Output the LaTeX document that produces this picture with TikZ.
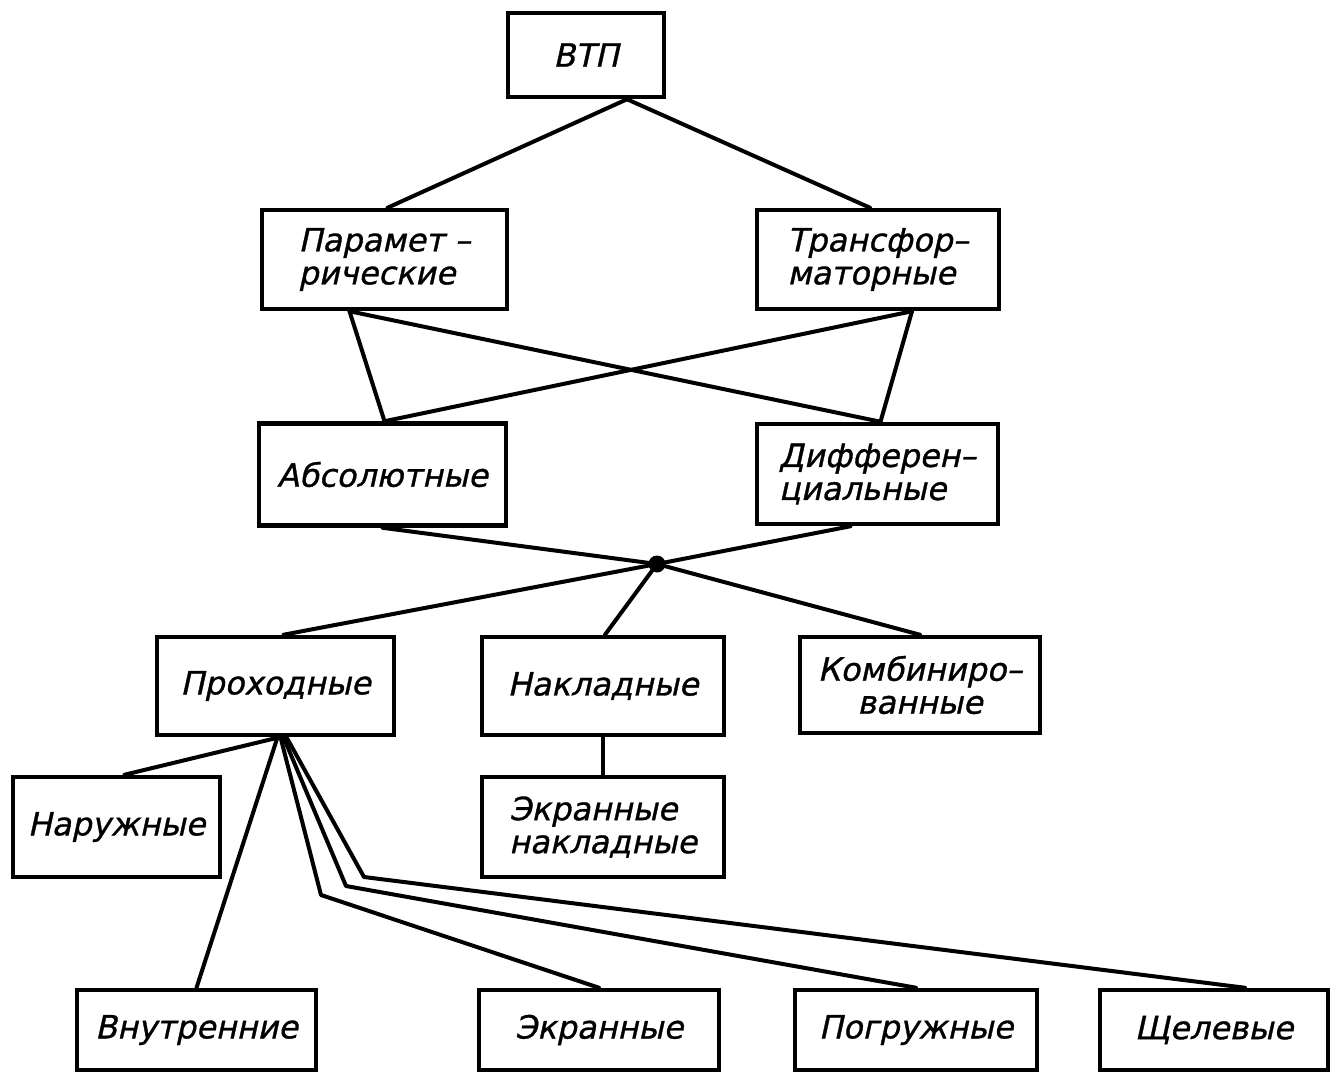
\documentclass[tikz,border=0pt]{standalone}
\usepackage{fontspec}
\newfontfamily\gost{DejaVu Sans}[FakeSlant=0.22,FakeBold=1]
\tikzset{
  box/.style={draw, line width=4.5pt, inner sep=0pt, font=\gost\fontsize{32}{33}\selectfont, align=left},
  link/.style={line width=4pt, line join=round, line cap=round},
  dot/.style={circle, fill, inner sep=0pt, minimum size=17pt},
}
\begin{document}
\begin{tikzpicture}[x=1pt,y=-1pt]
\useasboundingbox[fill=white] (0,0) rectangle (1333,1075);
% boxes
\node[box, minimum width=156pt, minimum height=84pt] (vtp) at (586,55) {ВТП};
\node[box, minimum width=245pt, minimum height=99pt] (par) at (384.5,259.5) {Парамет –\\рические};
\node[box, minimum width=242pt, minimum height=99pt] (tr) at (878,259.5) {Трансфор–\\маторные};
\node[box, minimum width=247pt, minimum height=102pt] (abs) at (382.5,474.5) {Абсолютные};
\node[box, minimum width=241pt, minimum height=100pt] (dif) at (877.5,474) {Дифферен–\\циальные};
\node[dot] (j) at (657,564) {};
\node[box, minimum width=237pt, minimum height=98pt] (pro) at (275.5,686) {Проходные};
\node[box, minimum width=242pt, minimum height=98pt] (nak) at (603,686) {Накладные};
\node[box, minimum width=240pt, minimum height=96pt, align=center] (kom) at (920,685) {Комбиниро–\\ванные};
\node[box, minimum width=207pt, minimum height=100pt] (nar) at (116.5,827) {Наружные};
\node[box, minimum width=242pt, minimum height=100pt] (ekn) at (603,827) {Экранные\\накладные};
\node[box, minimum width=239pt, minimum height=80pt] (vnu) at (196.5,1030) {Внутренние};
\node[box, minimum width=240pt, minimum height=80pt] (ekr) at (599,1030) {Экранные};
\node[box, minimum width=242pt, minimum height=80pt] (pog) at (916,1030) {Погружные};
\node[box, minimum width=228pt, minimum height=80pt] (shch) at (1214,1030) {Щелевые};
% bends
\coordinate (b1) at (321,895);
\coordinate (b2) at (346,886);
\coordinate (b3) at (364,877);
% connectors
\draw[link] ([xshift=41pt]vtp.south) -- ([xshift=3pt]par.north);
\draw[link] ([xshift=41pt]vtp.south) -- ([xshift=-8pt]tr.north);
\draw[link] ([xshift=-35pt]par.south) -- ([xshift=2pt]abs.north);
\draw[link] ([xshift=-35pt]par.south) -- ([xshift=3pt]dif.north);
\draw[link] ([xshift=34pt]tr.south) -- ([xshift=2pt]abs.north);
\draw[link] ([xshift=34pt]tr.south) -- ([xshift=3pt]dif.north);
\draw[link] (abs.south) -- (j.center);
\draw[link] ([xshift=-27pt]dif.south) -- (j.center);
\draw[link] (j.center) -- ([xshift=8pt]pro.north);
\draw[link] (j.center) -- ([xshift=2pt]nak.north);
\draw[link] (j.center) -- (kom.north);
\draw[link] (nak.south) -- (ekn.north);
\draw[link] ([xshift=4pt]pro.south) -- ([xshift=8pt]nar.north);
\draw[link] ([xshift=2pt]pro.south) -- (vnu.north);
\draw[link] ([xshift=5pt]pro.south) -- (b1) -- (ekr.north);
\draw[link] ([xshift=8pt]pro.south) -- (b2) -- (pog.north);
\draw[link] ([xshift=11pt]pro.south) -- (b3) -- ([xshift=31pt]shch.north);
\end{tikzpicture}
\end{document}
